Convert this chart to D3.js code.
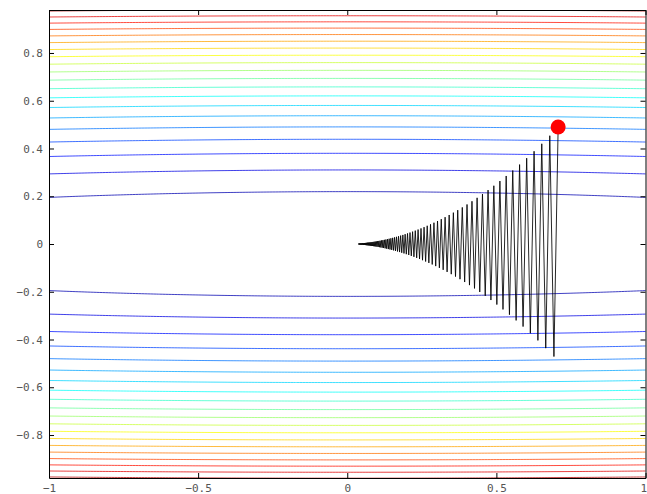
<!DOCTYPE html>
<html><head><meta charset="utf-8">
<script src="https://cdn.jsdelivr.net/npm/d3@7"></script>
<style>body{margin:0;background:#fff} svg{display:block}</style>
</head><body>
<svg id="chart" width="647" height="494"></svg>
<script>
// ---- data ----
const xTicks = [-1, -0.5, 0, 0.5, 1];
const yTicks = [-0.8, -0.6, -0.4, -0.2, 0, 0.2, 0.4, 0.6, 0.8];
const xDomain = [-1, 1];
const yDomain = [-0.98, 0.98];
// contour levels of f = xWeight*x^2 + y^2
const levels = [0.0481,0.0962,0.1443,0.1924,0.2405,0.2886,0.3367,0.3848,0.4329,0.4810,
                0.5290,0.5771,0.6252,0.6733,0.7214,0.7695,0.8176,0.8657,0.9138,0.9619];
const colorRange = [0, 1.01];
const xWeight = 0.01;
const pathX = [0.7071,0.6930,0.6791,0.6655,0.6522,0.6392,0.6264,0.6139,0.6016,0.5895,
0.5778,0.5662,0.5549,0.5438,0.5329,0.5222,0.5118,0.5016,0.4915,0.4817,
0.4721,0.4626,0.4534,0.4443,0.4354,0.4267,0.4182,0.4098,0.4016,0.3936,
0.3857,0.3780,0.3704,0.3630,0.3558,0.3487,0.3417,0.3348,0.3281,0.3216,
0.3152,0.3089,0.3027,0.2966,0.2907,0.2849,0.2792,0.2736,0.2681,0.2628,
0.2575,0.2524,0.2473,0.2424,0.2375,0.2328,0.2281,0.2235,0.2191,0.2147,
0.2104,0.2062,0.2021,0.1980,0.1941,0.1902,0.1864,0.1827,0.1790,0.1754,
0.1719,0.1685,0.1651,0.1618,0.1586,0.1554,0.1523,0.1492,0.1463,0.1433,
0.1405,0.1377,0.1349,0.1322,0.1296,0.1270,0.1244,0.1219,0.1195,0.1171,
0.1148,0.1125,0.1102,0.1080,0.1059,0.1037,0.1017,0.0996,0.0976,0.0957,
0.0938,0.0919,0.0901,0.0883,0.0865,0.0848,0.0831,0.0814,0.0798,0.0782,
0.0766,0.0751,0.0736,0.0721,0.0707,0.0693,0.0679,0.0665,0.0652,0.0639,
0.0626,0.0614,0.0601,0.0589,0.0577,0.0566,0.0555,0.0543,0.0533,0.0522,
0.0512,0.0501,0.0491,0.0481,0.0472,0.0462,0.0453,0.0444,0.0435,0.0426,
0.0418,0.0410,0.0401,0.0393,0.0386,0.0378];
const pathY = [0.4900,-0.4714,0.4535,-0.4362,0.4197,-0.4037,0.3884,-0.3736,0.3594,-0.3458,
0.3326,-0.3200,0.3078,-0.2961,0.2849,-0.2740,0.2636,-0.2536,0.2440,-0.2347,
0.2258,-0.2172,0.2090,-0.2010,0.1934,-0.1860,0.1790,-0.1722,0.1656,-0.1593,
0.1533,-0.1474,0.1418,-0.1365,0.1313,-0.1263,0.1215,-0.1169,0.1124,-0.1082,
0.1040,-0.1001,0.0963,-0.0926,0.0891,-0.0857,0.0825,-0.0793,0.0763,-0.0734,
0.0706,-0.0679,0.0654,-0.0629,0.0605,-0.0582,0.0560,-0.0538,0.0518,-0.0498,
0.0479,-0.0461,0.0444,-0.0427,0.0411,-0.0395,0.0380,-0.0366,0.0352,-0.0338,
0.0325,-0.0313,0.0301,-0.0290,0.0279,-0.0268,0.0258,-0.0248,0.0239,-0.0230,
0.0221,-0.0213,0.0204,-0.0197,0.0189,-0.0182,0.0175,-0.0168,0.0162,-0.0156,
0.0150,-0.0144,0.0139,-0.0133,0.0128,-0.0124,0.0119,-0.0114,0.0110,-0.0106,
0.0102,-0.0098,0.0094,-0.0091,0.0087,-0.0084,0.0081,-0.0078,0.0075,-0.0072,
0.0069,-0.0066,0.0064,-0.0062,0.0059,-0.0057,0.0055,-0.0053,0.0051,-0.0049,
0.0047,-0.0045,0.0043,-0.0042,0.0040,-0.0039,0.0037,-0.0036,0.0034,-0.0033,
0.0032,-0.0031,0.0029,-0.0028,0.0027,-0.0026,0.0025,-0.0024,0.0023,-0.0022,
0.0022,-0.0021,0.0020,-0.0019,0.0019,-0.0018];
const startPoint = [0.7071, 0.49];

// ---- layout ----
const plot = {left: 49, right: 645.5, top: 10, bottom: 478};
const svg = d3.select("#chart");
const x = d3.scaleLinear().domain(xDomain).range([plot.left, plot.right]);
const y = d3.scaleLinear().domain(yDomain).range([plot.bottom, plot.top]);

function jet(t) {
  const c = v => Math.max(0, Math.min(1, v));
  return d3.rgb(255 * c(1.5 - Math.abs(4 * t - 3)),
                255 * c(1.5 - Math.abs(4 * t - 2)),
                255 * c(1.5 - Math.abs(4 * t - 1))).formatHex();
}
const color = d3.scaleLinear().domain(colorRange).range([0, 1]);

svg.append("defs").append("clipPath").attr("id", "clip")
  .append("rect").attr("x", plot.left).attr("y", plot.top)
  .attr("width", plot.right - plot.left).attr("height", plot.bottom - plot.top);

// contour grid
const g0 = -1.1, step = 0.01, n = 221;
const values = new Array(n * n);
for (let j = 0; j < n; j++) for (let i = 0; i < n; i++) {
  const gx = g0 + i * step, gy = g0 + j * step;
  values[j * n + i] = xWeight * gx * gx + gy * gy;
}
const contours = d3.contours().size([n, n]).thresholds(levels)(values);
const proj = d3.geoTransform({
  point: function(cx, cy) {
    this.stream.point(x(g0 + (cx - 0.5) * step), y(g0 + (cy - 0.5) * step));
  }
});
const geoPath = d3.geoPath(proj);

const cg = svg.append("g").attr("clip-path", "url(#clip)");
cg.selectAll("path.contour").data(contours).join("path")
  .attr("class", "contour")
  .attr("d", geoPath)
  .attr("fill", "none")
  .attr("stroke", d => jet(color(d.value)))
  .attr("stroke-width", 1)
  .attr("stroke-opacity", 0.75);

// descent path
const pts = pathX.map((v, i) => [v, pathY[i]]);
cg.append("path")
  .attr("d", d3.line().x(d => x(d[0])).y(d => y(d[1]))(pts))
  .attr("fill", "none").attr("stroke", "#000").attr("stroke-width", 1)
  .attr("stroke-opacity", 0.85);

cg.append("circle")
  .attr("cx", x(startPoint[0])).attr("cy", y(startPoint[1]))
  .attr("r", 7.5).attr("fill", "#ff0000");

// axes
const fmt = d => String(d).replace("-", "\u2212");
const font = "DejaVu Sans Mono";
function style(g) {
  g.select(".domain").attr("stroke", "#000");
  g.selectAll(".tick line").attr("stroke", "#000");
  g.selectAll(".tick text").attr("fill", "#555").attr("font-family", font).attr("font-size", 11);
}
const bottomAxis = svg.append("g").attr("transform", `translate(0,${plot.bottom})`)
  .call(d3.axisBottom(x).tickValues(xTicks).tickFormat(fmt).tickSizeInner(-5).tickSizeOuter(0).tickPadding(6))
  .call(style);
// keep the last label inside the picture
bottomAxis.selectAll(".tick text").filter(d => d === xDomain[1]).attr("text-anchor", "end").attr("x", 1);
svg.append("g").attr("transform", `translate(0,${plot.top})`)
  .call(d3.axisTop(x).tickValues(xTicks).tickFormat("").tickSizeInner(-5).tickSizeOuter(0))
  .call(style);
svg.append("g").attr("transform", `translate(${plot.left},0)`)
  .call(d3.axisLeft(y).tickValues(yTicks).tickFormat(fmt).tickSizeInner(-5).tickSizeOuter(0).tickPadding(6))
  .call(style);
svg.append("g").attr("transform", `translate(${plot.right},0)`)
  .call(d3.axisRight(y).tickValues(yTicks).tickFormat("").tickSizeInner(-5).tickSizeOuter(0))
  .call(style);
svg.selectAll(".domain").attr("stroke-width", 1);
</script>
</body></html>
